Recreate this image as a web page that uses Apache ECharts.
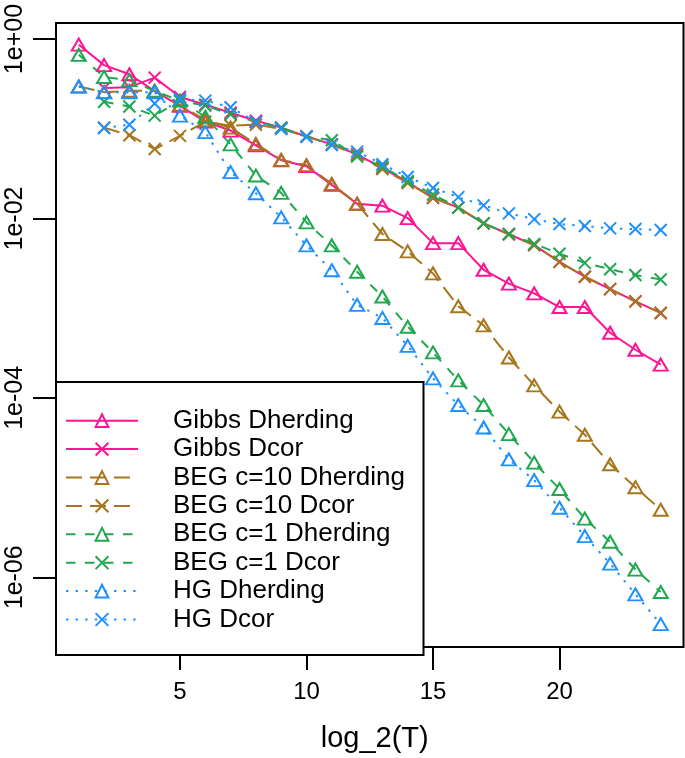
<!DOCTYPE html>
<html>
<head>
<meta charset="utf-8">
<script src="https://cdn.jsdelivr.net/npm/echarts@6/dist/echarts.min.js"></script>
<style>
html,body{margin:0;padding:0;background:#fff;}
#chart{width:685px;height:758px;}
</style>
</head>
<body>
<div id="chart"></div>
<script>
// log_2(T) steps
const steps = [1,2,3,4,5,6,7,8,9,10,11,12,13,14,15,16,17,18,19,20,21,22,23,24];

const gibbsDherding = [0.866,0.512,0.405,0.263,0.180,0.120,0.0955,0.0652,0.0446,0.0383,0.0237,0.0146,0.0139,0.0101,0.00531,0.00531,0.00268,0.00188,0.00146,0.00103,0.00103,5.32e-4,3.44e-4,2.35e-4];
const gibbsDcor = [null,0.284,0.291,0.372,0.226,0.185,0.151,0.123,0.103,0.0820,0.0670,0.0519,0.0364,0.0255,0.0170,0.0132,0.00881,0.00667,0.00505,0.00328,0.00224,0.00163,0.00119,8.85e-4];
const begC10Dherding = [0.296,0.256,0.265,0.265,0.185,0.124,0.103,0.0678,0.0450,0.0393,0.0243,0.0146,0.00671,0.00430,0.00244,0.00105,6.43e-4,2.82e-4,1.38e-4,7.02e-5,3.88e-5,1.82e-5,1.01e-5,5.66e-6];
const begC10Dcor = [null,0.103,0.0847,0.0594,0.0834,0.120,0.108,0.111,0.100,0.0820,0.0670,0.0506,0.0355,0.0249,0.0170,0.0132,0.00881,0.00667,0.00505,0.00328,0.00224,0.00163,0.00119,8.85e-4];
const begC1Dherding = [0.667,0.378,0.348,0.263,0.206,0.136,0.0670,0.0301,0.0193,0.00904,0.00501,0.00255,0.00135,6.21e-4,3.21e-4,1.57e-4,8.32e-5,3.95e-5,1.90e-5,9.64e-6,4.51e-6,2.49e-6,1.22e-6,6.86e-7];
const begC1Dcor = [null,0.200,0.177,0.140,0.204,0.182,0.145,0.119,0.103,0.0820,0.0746,0.0490,0.0380,0.0260,0.0185,0.0132,0.00881,0.00671,0.00521,0.00405,0.00320,0.00272,0.00234,0.00209];
const hgDherding = [0.296,0.255,0.255,0.255,0.140,0.0918,0.0329,0.0191,0.0103,0.00501,0.00265,0.00109,7.78e-4,3.80e-4,1.65e-4,8.32e-5,4.68e-5,2.06e-5,1.21e-5,5.96e-6,2.88e-6,1.42e-6,6.46e-7,3.01e-7];
const hgDcor = [null,0.102,0.111,0.191,0.215,0.206,0.174,0.119,0.100,0.0813,0.0658,0.0556,0.0403,0.0290,0.0219,0.0173,0.0140,0.0114,0.00984,0.00867,0.00823,0.00776,0.00762,0.00743];

const seriesNames = ['Gibbs Dherding','Gibbs Dcor','BEG c=10 Dherding','BEG c=10 Dcor','BEG c=1 Dherding','BEG c=1 Dcor','HG Dherding','HG Dcor'];
const xTicks = [5,10,15,20];
const yTickExponents = [0,-2,-4,-6];
const yTickLabels = ['1e+00','1e-02','1e-04','1e-06'];
const xLabel = 'log_2(T)';

const PINK = '#ff1493', BROWN = '#a6761d', GREEN = '#1fa84f', BLUE = '#1e90ff';
const FONT = 'Liberation Sans, Arial, sans-serif';
const TRI = 'triangle';
const CROSS = 'path://M0 0L10 10M10 0L0 10';
const SOLID = 'solid', LONGDASH = [16, 8], DASH = [9.5, 9.5], DOT = [2.4, 7.2];

function toPairs(vals) {
  const out = [];
  vals.forEach((v, i) => { if (v != null) out.push([steps[i], Math.log10(v)]); });
  return out;
}
function mkSeries(name, vals, color, dash, sym) {
  const isTri = sym === TRI;
  return {
    name: name,
    type: 'line',
    data: toPairs(vals),
    symbol: sym,
    symbolSize: isTri ? [14, 12] : [12, 12],
    showSymbol: true,
    showAllSymbol: true,
    lineStyle: { color: color, width: 2, type: dash },
    itemStyle: { color: 'transparent', borderColor: color, borderWidth: 2 },
    emphasis: { disabled: true },
    z: 2
  };
}

const chart = echarts.init(document.getElementById('chart'), null, { renderer: 'canvas' });
chart.setOption({
  animation: false,
  backgroundColor: '#fff',
  grid: { left: 56, right: 1.5, top: 23, bottom: 103, show: true, borderColor: '#000', borderWidth: 2, backgroundColor: 'transparent' },
  xAxis: {
    type: 'value', min: 0.1, max: 24.9,
    axisLine: { show: false, onZero: false },
    splitLine: { show: false },
    axisTick: { show: true, customValues: xTicks, length: 23, lineStyle: { color: '#000', width: 2 } },
    axisLabel: { customValues: xTicks, margin: 33, fontSize: 24, color: '#000', fontFamily: FONT },
    name: xLabel, nameLocation: 'middle', nameGap: 77,
    nameTextStyle: { fontSize: 29, color: '#000', fontFamily: FONT, padding: [0, 0, 0, 10] }
  },
  yAxis: {
    type: 'value', min: -6.777, max: 0.179,
    axisLine: { show: false, onZero: false },
    splitLine: { show: false },
    axisTick: { show: true, customValues: yTickExponents, length: 23, lineStyle: { color: '#000', width: 2 } },
    axisLabel: {
      customValues: yTickExponents, rotate: 90, margin: 28, fontSize: 25, color: '#000', fontFamily: FONT,
      formatter: function (v) { const i = yTickExponents.indexOf(Math.round(v)); return i >= 0 ? yTickLabels[i] : ''; }
    }
  },
  legend: {
    orient: 'vertical', left: 65, top: 406.6, padding: 0,
    itemWidth: 72, itemHeight: 16, itemGap: 0.2,
    selectedMode: false,
    textStyle: { fontSize: 26, color: '#000', fontFamily: FONT, lineHeight: 28.2, padding: [0, 0, 0, 30] },
    data: seriesNames,
    z: 5
  },
  graphic: [{
    type: 'rect', z: 4,
    shape: { x: 56, y: 382, width: 367.5, height: 273 },
    style: { fill: '#fff', stroke: '#000', lineWidth: 2 }
  }],
  series: [
    mkSeries(seriesNames[0], gibbsDherding, PINK, SOLID, TRI),
    mkSeries(seriesNames[1], gibbsDcor, PINK, SOLID, CROSS),
    mkSeries(seriesNames[2], begC10Dherding, BROWN, LONGDASH, TRI),
    mkSeries(seriesNames[3], begC10Dcor, BROWN, LONGDASH, CROSS),
    mkSeries(seriesNames[4], begC1Dherding, GREEN, DASH, TRI),
    mkSeries(seriesNames[5], begC1Dcor, GREEN, DASH, CROSS),
    mkSeries(seriesNames[6], hgDherding, BLUE, DOT, TRI),
    mkSeries(seriesNames[7], hgDcor, BLUE, DOT, CROSS)
  ]
});
</script>
</body>
</html>
